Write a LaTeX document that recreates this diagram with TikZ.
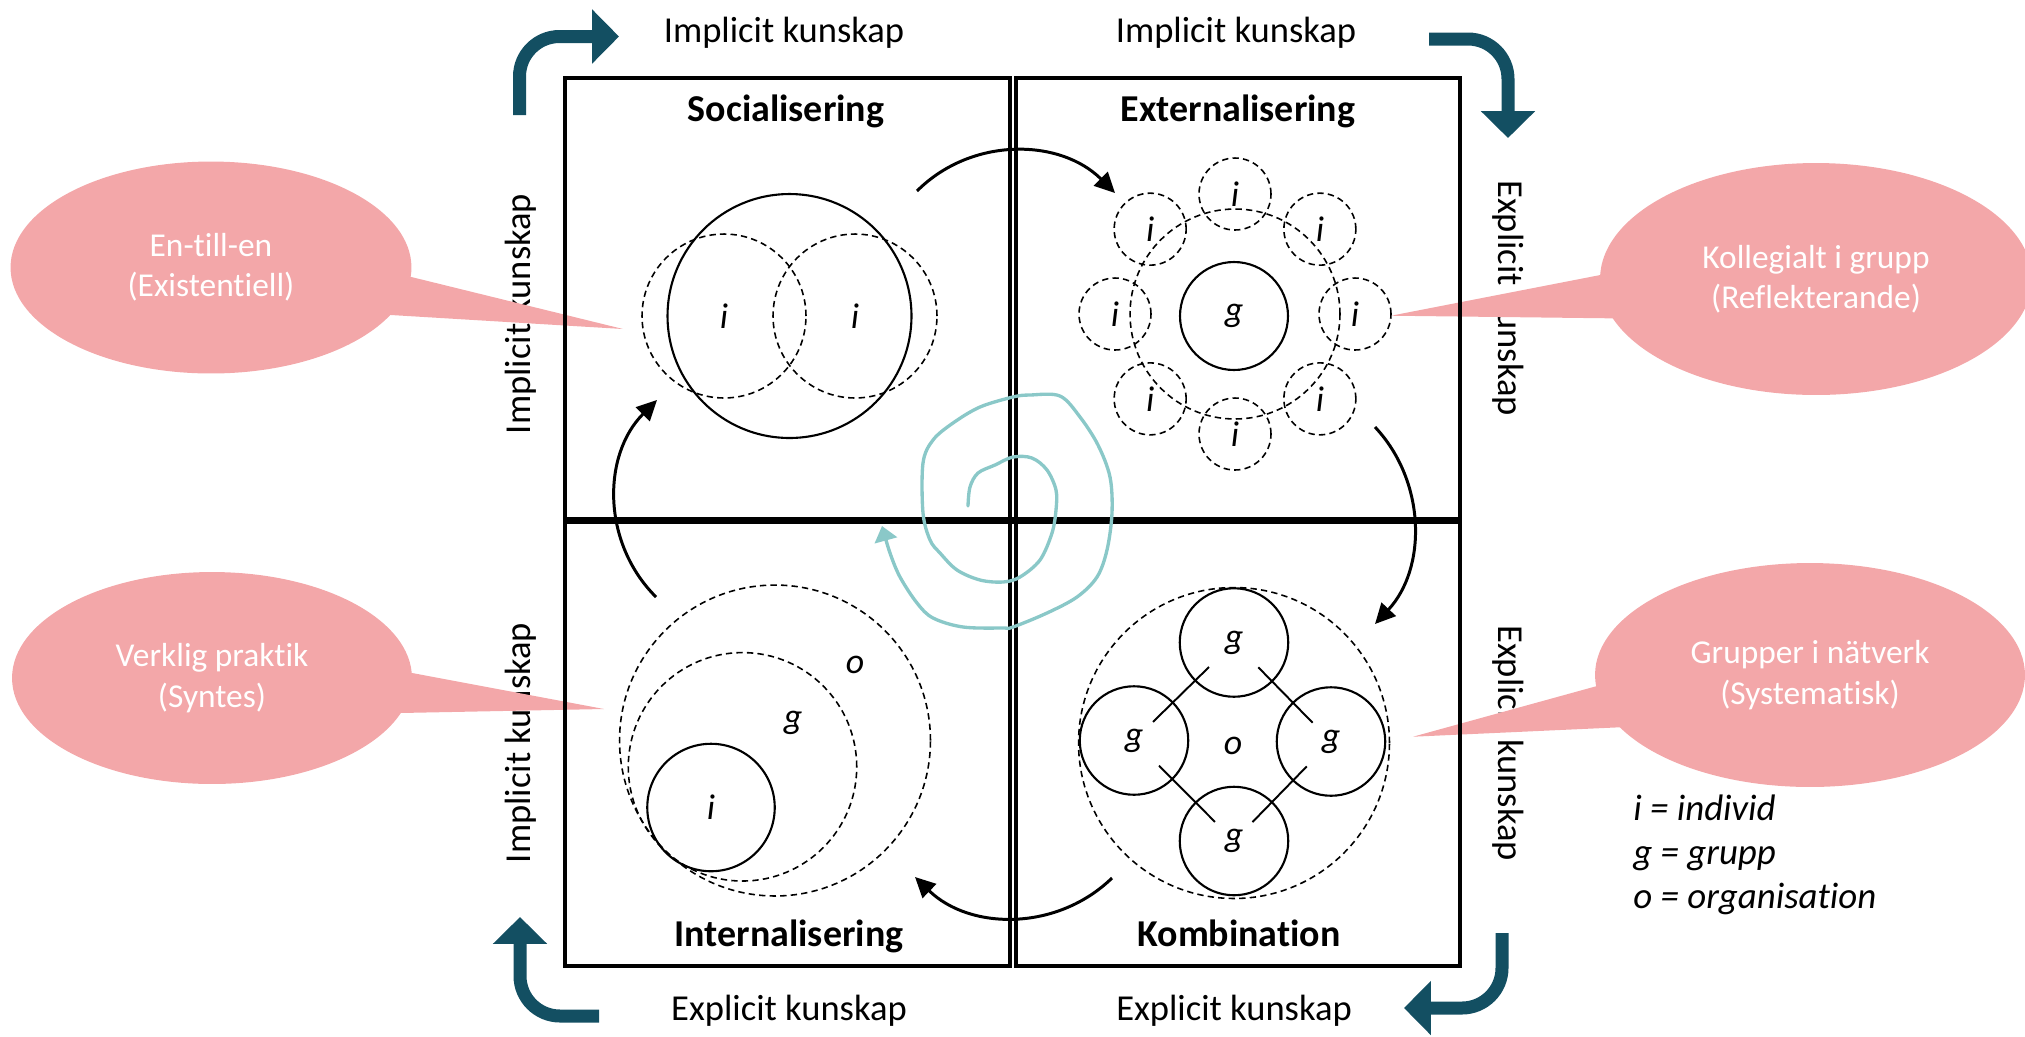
\documentclass[tikz,border=0pt]{standalone}
\usepackage{fontspec}
\setmainfont{Carlito}[Ligatures=NoCommon]
\usetikzlibrary{arrows.meta,shapes.geometric,calc}
\definecolor{arrowc}{RGB}{19,79,98}
\definecolor{tealsp}{RGB}{138,200,200}
\definecolor{pinkb}{RGB}{243,167,169}
\begin{document}
\begin{tikzpicture}[x=0.02cm,y=-0.02cm,
  kt/.style={font=\fontsize{20.8}{25}\selectfont, inner sep=0pt},
  hd/.style={font=\fontsize{21.6}{25}\selectfont\bfseries, inner sep=0pt},
  lt/.style={font=\fontsize{20.4}{24.5}\selectfont\itshape, inner sep=0pt},
  lgt/.style={font=\fontsize{21}{25}\selectfont\itshape, inner sep=0pt},
  bub/.style={ellipse, fill=pinkb, inner sep=0pt, text=white, align=center, font=\fontsize{19}{23}\selectfont},
  dc/.style={circle, draw, dash pattern=on 3.6pt off 2.4pt, line width=0.9pt, inner sep=0pt},
  sc/.style={circle, draw, line width=1.2pt, inner sep=0pt},
  bigarrow/.style={draw=arrowc, line width=7.4pt, rounded corners=0.8cm, -{Triangle[length=15.3pt,width=30pt]}},
  cyc/.style={line width=1.7pt, -{Triangle[length=11.5pt,width=11pt]}},
  boxline/.style={line width=2.8pt},
  midline/.style={line width=4pt}
]
\useasboundingbox (0,0) rectangle (2025,1036);

% rotated side texts (under the bubbles)
\node[kt, rotate=90, anchor=base] (sl1) at (530,314) {Implicit kunskap};
\node[kt, rotate=90, anchor=base] (sl2) at (530,743) {Implicit kunskap};
\node[kt, rotate=-90, anchor=base] (sr1) at (1498,298) {Explicit kunskap};
\node[kt, rotate=-90, anchor=base] (sr2) at (1498,743) {Explicit kunskap};

% speech bubbles
\node[bub, minimum width=8.02cm, minimum height=4.24cm] (b1) at (211,267.5) {En-till-en\\(Existentiell)};
\coordinate (t1) at (623,329);
\fill[pinkb] ($(b1)+(178,4)$) -- (t1) -- ($(b1)+(155,46)$) -- cycle;

\node[bub, minimum width=8.0cm, minimum height=4.24cm] (b2) at (212,678) {Verklig praktik\\(Syntes)};
\coordinate (t2) at (604,709);
\fill[pinkb] ($(b2)+(181,-8.6)$) -- (t2) -- ($(b2)+(157.4,35.6)$) -- cycle;

\node[bub, minimum width=8.64cm, minimum height=4.64cm] (b3) at (1816,279) {Kollegialt i grupp\\(Reflekterande)};
\coordinate (t3) at (1391,315.7);
\fill[pinkb] ($(b3)+(-195.1,-8)$) -- (t3) -- ($(b3)+(-181,39.6)$) -- cycle;

\node[bub, minimum width=8.6cm, minimum height=4.48cm] (b4) at (1810,675) {Grupper i nätverk\\(Systematisk)};
\coordinate (t4) at (1413,736.7);
\fill[pinkb] ($(b4)+(-188.3,4.2)$) -- (t4) -- ($(b4)+(-166.6,51.2)$) -- cycle;

% boxes
\draw[boxline] (565,78) rectangle (1010,966);
\draw[boxline] (1016,78) rectangle (1460,966);
\draw[midline] (565,520) -- (1460,520);

% top and bottom texts
\node[kt, anchor=base] (tt1) at (784,42) {Implicit kunskap};
\node[kt, anchor=base] (tt2) at (1236,42) {Implicit kunskap};
\node[kt, anchor=base] (bt1) at (789,1020) {Explicit kunskap};
\node[kt, anchor=base] (bt2) at (1234,1020) {Explicit kunskap};

% headings
\node[hd, anchor=base] (h1) at (786,121) {Socialisering};
\node[hd, anchor=base] (h2) at (1238,121) {Externalisering};
\node[hd, anchor=base] (h3) at (789,946) {Internalisering};
\node[hd, anchor=base] (h4) at (1239,946) {Kombination};

% big corner arrows
\coordinate (a1s) at (519.5,115); \coordinate (a1e) at (619,36.5);
\draw[bigarrow] (a1s) |- (a1e);
\coordinate (a2s) at (1429,39); \coordinate (a2e) at (1508,138);
\draw[bigarrow] (a2s) -| (a2e);
\coordinate (a3s) at (1502,933); \coordinate (a3e) at (1404,1008);
\draw[bigarrow] (a3s) |- (a3e);
\coordinate (a4s) at (599,1016); \coordinate (a4e) at (520,917);
\draw[bigarrow] (a4s) -| (a4e);

% Socialisering
\node[sc, minimum size=4.88cm] (sbig) at (789.5,316) {};
\node[dc, lt, minimum size=3.28cm] (si1) at (724,316) {i};
\node[dc, lt, minimum size=3.28cm] (si2) at (855,316) {i};

% Externalisering
\node[dc, minimum size=4.2cm] (ering) at (1235,314) {};
\node[sc, lt, minimum size=2.16cm] (eg) at (1234,316) {g};
\foreach \a [count=\k] in {-90,-45,0,45,90,135,180,225}
  \node[dc, lt, minimum size=1.44cm] (ei\k) at ($(ering)+(\a:120)$) {i};

% Kombination
\node[dc, minimum size=6.22cm] (ko) at (1234,743) {};
\node[lt] (kol) at (1233,746) {o};
\node[sc, lt, minimum size=2.17cm] (kg1) at (1234,642.5) {g};
\node[sc, lt, minimum size=2.17cm] (kg2) at (1134,740.5) {g};
\node[sc, lt, minimum size=2.17cm] (kg3) at (1331,741.5) {g};
\node[sc, lt, minimum size=2.17cm] (kg4) at (1234,841) {g};
\draw[line width=1.1pt] ($(kg1)!0.25!(kg2)$) -- ($(kg1)!0.81!(kg2)$);
\draw[line width=1.1pt] ($(kg1)!0.25!(kg3)$) -- ($(kg1)!0.81!(kg3)$);
\draw[line width=1.1pt] ($(kg2)!0.25!(kg4)$) -- ($(kg2)!0.81!(kg4)$);
\draw[line width=1.1pt] ($(kg3)!0.25!(kg4)$) -- ($(kg3)!0.81!(kg4)$);

% Internalisering
\node[dc, minimum size=6.22cm] (io) at (775,740.5) {};
\node[dc, minimum size=4.57cm] (ig) at (742.5,766.8) {};
\node[sc, lt, minimum size=2.55cm] (ii) at (711,807.5) {i};
\node[lt] (iol) at (855,665) {o};
\node[lt] (igl) at (793,723) {g};

% cycle arcs
\coordinate (c1s) at (917,191); \coordinate (c1e) at (1115,193);
\draw[cyc] (c1s) .. controls (971.7,136.3) and (1060.3,138.3) .. (c1e);
\coordinate (c2s) at (1375,427); \coordinate (c2e) at (1375,624);
\draw[cyc] (c2s) .. controls (1426.6,482) and (1426.6,568.7) .. (c2e);
\coordinate (c3s) at (1112,878); \coordinate (c3e) at (915,877);
\draw[cyc] (c3s) .. controls (1057,931.4) and (970,930.4) .. (c3e);
\coordinate (c4s) at (656,597); \coordinate (c4e) at (657,400);
\draw[cyc] (c4s) .. controls (601.3,542.3) and (602.3,454.7) .. (c4e);

% spiral
\draw[tealsp, line width=1.9pt, line cap=round, line join=round, -{Triangle[length=8.5pt,width=13pt]}]
  plot[smooth, tension=0.55] coordinates {
  (968,506) (970,487) (978,473) (995,465) (1013,457) (1032,458) (1047,470)
  (1056,490) (1056,510) (1052,533) (1040,560) (1020,577) (1003,582) (980,580)
  (957,570) (940,553) (930,540) (923,513) (923,463) (933,440) (953,423)
  (980,407) (1013,397) (1030,395) (1060,396) (1080,417) (1098,445) (1110,477)
  (1112,513) (1107,550) (1097,577) (1077,597) (1047,613) (1013,627) (1003,628)
  (963,627) (933,618) (917,603) (900,577) (890,553) (882,526)};

% legend
\node[lgt, anchor=base west] (lg1) at (1633,820) {i = individ};
\node[lgt, anchor=base west] (lg2) at (1633,864) {g = grupp};
\node[lgt, anchor=base west] (lg3) at (1633,908) {o = organisation};
\end{tikzpicture}
\end{document}
